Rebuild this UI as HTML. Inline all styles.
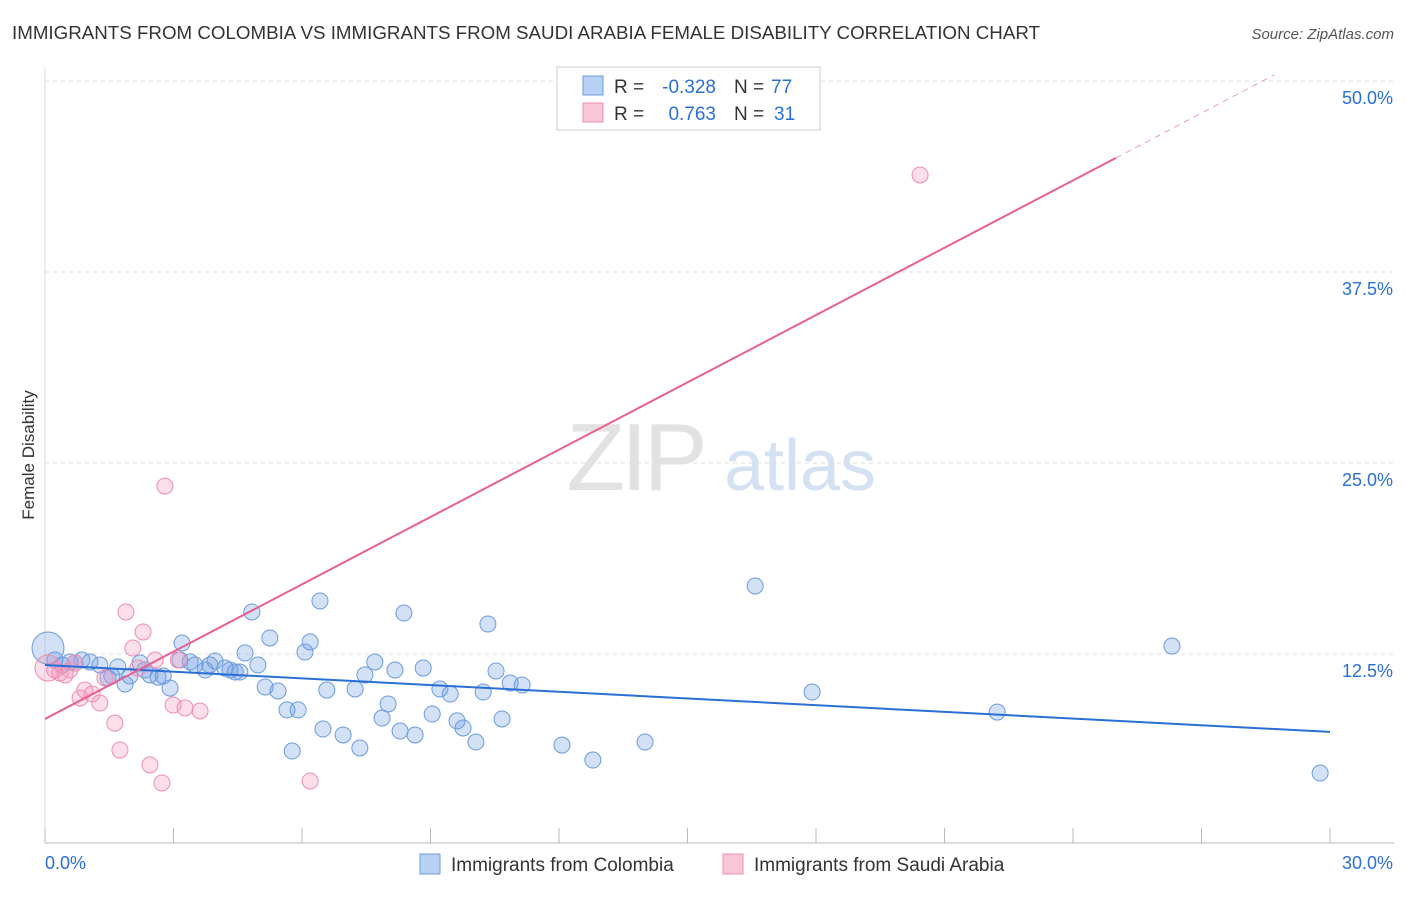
<!DOCTYPE html>
<html><head><meta charset="utf-8">
<style>
body{margin:0;background:#fff;font-family:"Liberation Sans",sans-serif;}
svg text{font-family:"Liberation Sans",sans-serif;}
</style></head>
<body>
<svg id="chart" width="1406" height="892" viewBox="0 0 1406 892" xmlns="http://www.w3.org/2000/svg">
<text x="12" y="39" font-size="18" fill="#333" textLength="1028" lengthAdjust="spacingAndGlyphs">IMMIGRANTS FROM COLOMBIA VS IMMIGRANTS FROM SAUDI ARABIA FEMALE DISABILITY CORRELATION CHART</text>
<text x="1394" y="39" font-size="15" fill="#555" text-anchor="end" font-style="italic">Source: ZipAtlas.com</text>
<text transform="translate(34,455) rotate(-90)" font-size="17" fill="#333" text-anchor="middle">Female Disability</text>
<g>
<text x="635" y="490" font-size="96" fill="#e2e2e2" text-anchor="middle" font-family="Liberation Serif" letter-spacing="-4">ZIP</text>
<text x="800" y="490" font-size="72" fill="#d4e1f3" text-anchor="middle">atlas</text>
</g>
<g id="grid"></g>
<g id="axes"></g>
<g id="points"></g>
<g id="lines"></g>
<g>
<rect x="557" y="67" width="263" height="63" fill="#fff" stroke="#ccc"/>
<rect x="583" y="76" width="20" height="19" fill="#b8d0f4" stroke="#6a9be0"/>
<rect x="583" y="103" width="20" height="19" fill="#f9c6d6" stroke="#f08cb0"/>
<text x="614" y="93" font-size="19" fill="#333">R =</text>
<text x="716" y="93" font-size="19" fill="#2a6fd6" text-anchor="end">-0.328</text>
<text x="734" y="93" font-size="19" fill="#333">N =</text>
<text x="771" y="93" font-size="19" fill="#2a6fd6">77</text>
<text x="614" y="120" font-size="19" fill="#333">R =</text>
<text x="716" y="120" font-size="19" fill="#2a6fd6" text-anchor="end">0.763</text>
<text x="734" y="120" font-size="19" fill="#333">N =</text>
<text x="774" y="120" font-size="19" fill="#2a6fd6">31</text>
</g>
<g>
<rect x="420" y="854" width="20" height="20" fill="#b8d0f4" stroke="#6a9be0"/>
<text x="451" y="871" font-size="19" fill="#333">Immigrants from Colombia</text>
<rect x="723" y="854" width="20" height="20" fill="#f9c6d6" stroke="#f08cb0"/>
<text x="754" y="871" font-size="19" fill="#333">Immigrants from Saudi Arabia</text>
</g>
</svg>
<script>
const yTicks=[12.5,25,37.5,50];
const yTickLabels=["12.5%","25.0%","37.5%","50.0%"];
const xTicks=[0,3,6,9,12,15,18,21,24,27,30];
const colombiaX=[0.07,0.23,0.40,0.58,0.70,0.86,1.05,1.28,1.47,1.56,1.70,1.87,1.98,2.22,2.33,2.45,2.64,2.76,2.92,3.20,3.15,3.39,3.50,3.74,3.85,3.97,4.20,4.32,4.44,4.55,4.67,4.83,4.97,5.14,5.25,5.44,5.65,5.77,5.91,6.07,6.19,6.42,6.49,6.58,6.96,7.24,7.35,7.47,7.70,7.87,8.01,8.17,8.29,8.38,8.64,8.83,9.04,9.22,9.46,9.62,9.76,10.06,10.23,10.34,10.53,10.67,10.86,11.14,12.07,12.79,14.01,16.58,17.91,22.23,26.31,29.77];
const colombiaY=[12.89,12.11,11.78,11.98,11.91,12.11,11.98,11.78,10.93,11.06,11.65,10.54,11.06,11.91,11.45,11.13,10.99,11.06,10.27,13.22,12.11,11.98,11.78,11.45,11.78,12.04,11.58,11.45,11.32,11.32,12.57,15.25,11.78,10.34,13.55,10.08,8.84,6.15,8.84,12.63,13.29,15.97,7.59,10.14,7.20,10.21,6.35,11.13,11.98,8.31,9.23,11.45,7.46,15.18,7.20,11.58,8.57,10.21,9.88,8.12,7.66,6.74,10.01,14.46,11.39,8.25,10.60,10.47,6.54,5.56,6.74,16.95,10.01,8.70,13.02,4.71];
const saudiX=[0.07,0.23,0.35,0.47,0.58,0.70,0.82,0.93,1.10,1.28,1.40,1.63,1.75,1.89,2.05,2.17,2.29,2.45,2.57,2.73,2.80,2.99,3.11,3.27,3.62,6.19,20.43];
const saudiY=[11.58,11.45,11.26,11.13,11.45,11.91,9.62,10.14,9.88,9.29,10.93,7.98,6.22,15.25,12.89,11.58,13.94,5.24,12.11,4.06,23.49,9.16,12.11,8.97,8.77,4.19,43.85];
const colombiaTrend=[11.78,7.40];
const saudiTrend=[8.25,44.96,50.4];
const saudiTrendX=[0,25,28.7];

const NS="http://www.w3.org/2000/svg";
const X=v=>45+v*42.833;
const Y=v=>654-(v-12.5)*15.28;
function mk(t,a,p){const e=document.createElementNS(NS,t);for(const k in a)e.setAttribute(k,a[k]);p.appendChild(e);return e;}
const grid=document.getElementById('grid'),axes=document.getElementById('axes'),pts=document.getElementById('points'),lines=document.getElementById('lines');
yTicks.forEach((t,i)=>{
 const l=mk('line',{x1:45,x2:1394,y1:Y(t),y2:Y(t),stroke:'#ddd','stroke-dasharray':'4,4'},grid);
 
 
 const tx=mk('text',{x:1393,y:Y(t)+23,'font-size':18,fill:'#2a6fd6','text-anchor':'end'},axes);
 tx.textContent=yTickLabels[i];
 
 
});
const ax=mk('line',{x1:45,x2:1394,y1:843,y2:843,stroke:'#bbb'},axes);


const ay=mk('line',{x1:45,x2:45,y1:68,y2:843,stroke:'#ddd'},axes);


xTicks.forEach(t=>{
 const l=mk('line',{x1:X(t),x2:X(t),y1:828,y2:843,stroke:'#bbb'},axes);
 
 
});
const xl0=mk('text',{x:45,y:869,'font-size':18,fill:'#2a6fd6'},axes);xl0.textContent='0.0%';


const xl1=mk('text',{x:1393,y:869,'font-size':18,fill:'#2a6fd6','text-anchor':'end'},axes);xl1.textContent='30.0%';


colombiaX.forEach((x,i)=>{
 const c=mk('circle',{cx:X(x),cy:Y(colombiaY[i]),r:i==0?16:8,fill:'rgba(110,155,230,0.3)',stroke:'#6a9be0','stroke-width':1},pts);
 
 
});
saudiX.forEach((x,i)=>{
 const c=mk('circle',{cx:X(x),cy:Y(saudiY[i]),r:i==0?13:8,fill:'rgba(244,150,185,0.3)',stroke:'#f08cb0','stroke-width':1},pts);
 
 
});
const bl=mk('line',{x1:X(0),y1:Y(colombiaTrend[0]),x2:X(30),y2:Y(colombiaTrend[1]),stroke:'#2a6fd6','stroke-width':2},lines);


const pl=mk('line',{x1:X(saudiTrendX[0]),y1:Y(saudiTrend[0]),x2:X(saudiTrendX[1]),y2:Y(saudiTrend[1]),stroke:'#e8608f','stroke-width':2},lines);


const pd=mk('line',{x1:X(saudiTrendX[1]),y1:Y(saudiTrend[1]),x2:X(saudiTrendX[2]),y2:Y(saudiTrend[2]),stroke:'#e8a0b8','stroke-width':1,'stroke-dasharray':'6,5'},lines);


</script>
</body></html>
